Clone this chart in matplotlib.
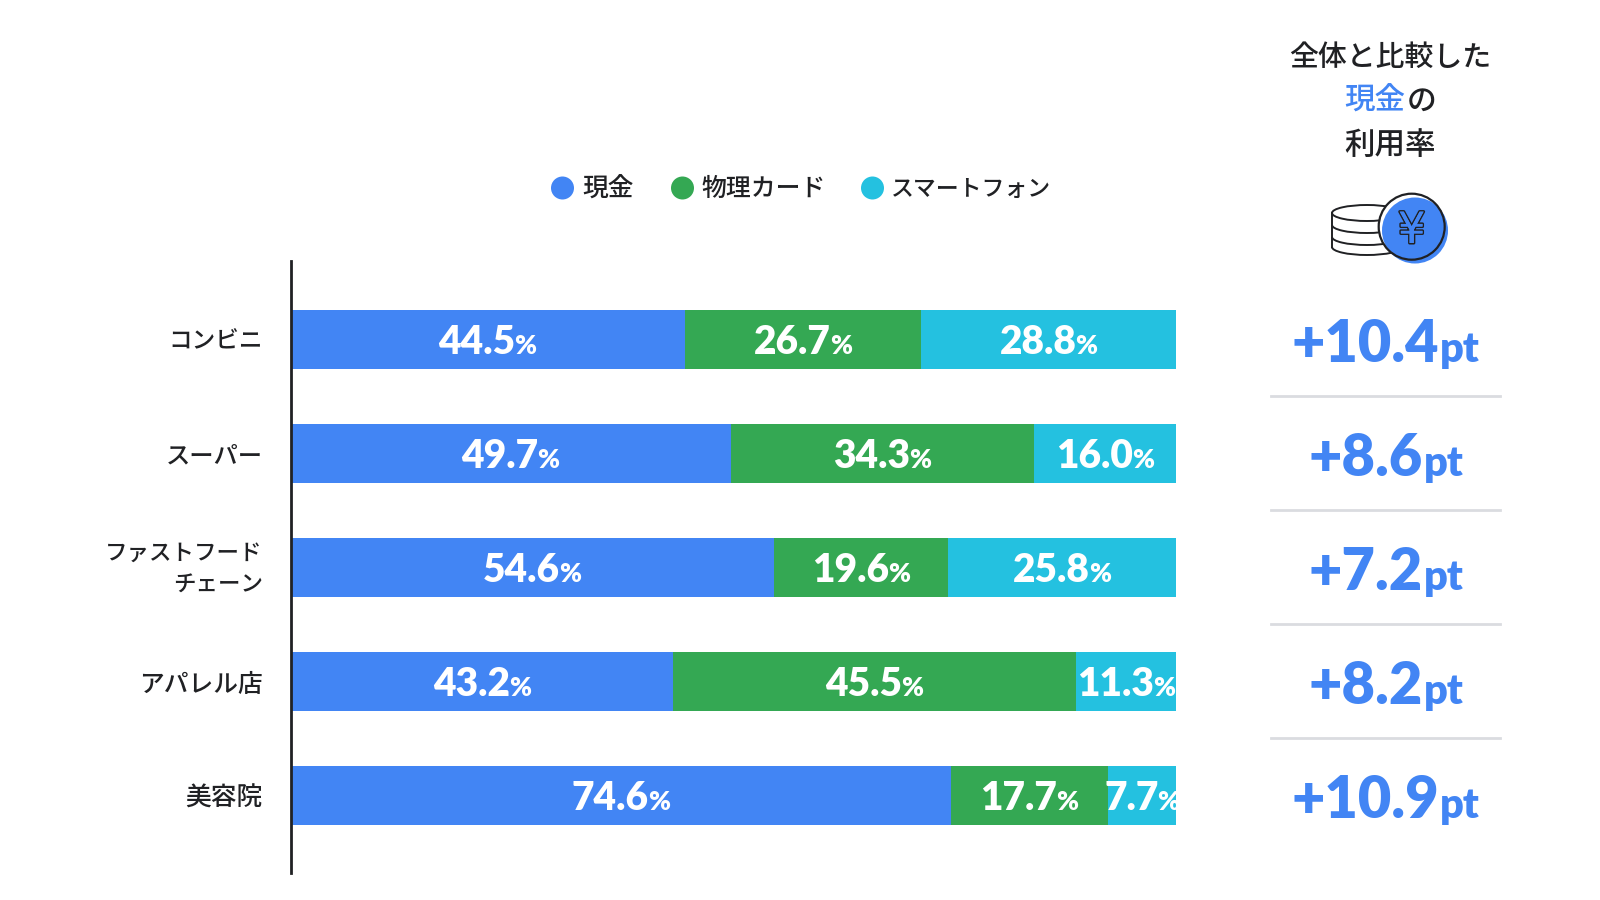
import matplotlib
matplotlib.use("Agg")
import matplotlib.pyplot as plt
import matplotlib.patheffects as pe
from matplotlib.patches import Circle, Ellipse, Arc
from matplotlib.lines import Line2D
from matplotlib.transforms import ScaledTranslation
import numpy as np

categories = ["コンビニ", "スーパー", "ファストフード\nチェーン", "アパレル店", "美容院"]
cash = [44.5, 49.7, 54.6, 43.2, 74.6]
card = [26.7, 34.3, 19.6, 45.5, 17.7]
phone = [28.8, 16.0, 25.8, 11.3, 7.7]
diff = ["+10.4", "+8.6", "+7.2", "+8.2", "+10.9"]
series_names = ["現金", "物理カード", "スマートフォン"]
colors = ["#4285F4", "#34A853", "#24C1E0"]

JP = ["Noto Sans CJK JP", "DejaVu Sans"]
NUM = ["Lato", "Noto Sans CJK JP"]
INK = "#202124"
W, H = 1600, 900
AX_L, AX_R, AX_T, AX_B = 290.5, 1176.0, 261, 873
ROW0, PITCH = 339.5, 114

fig = plt.figure(figsize=(16, 9), dpi=100, facecolor="white")
ov = fig.add_axes([0, 0, 1, 1], zorder=3)
ov.set_xlim(0, W); ov.set_ylim(H, 0); ov.axis("off")

ax = fig.add_axes([AX_L/W, 1-AX_B/H, (AX_R-AX_L)/W, (AX_B-AX_T)/H], zorder=1)
ax.set_xlim(0, 100)
y = np.arange(len(categories))
ax.set_ylim((AX_B-ROW0)/PITCH, (AX_T-ROW0)/PITCH)
for s in ["top", "right", "bottom"]:
    ax.spines[s].set_visible(False)
ax.spines["left"].set_linewidth(2)
ax.spines["left"].set_color(INK)
ax.set_xticks([])
ax.set_yticks(y)
ax.set_yticklabels(categories, fontfamily=JP, color=INK, linespacing=1.5, ha="right", fontweight="medium")
for lab, fs in zip(ax.get_yticklabels(), [17, 17.5, 16.2, 17.8, 18.5]):
    lab.set_fontsize(fs)
ax.tick_params(axis="y", length=0, pad=20)
multi = ax.get_yticklabels()[2]
multi.set_transform(multi.get_transform() + ScaledTranslation(0, 3.5/72, fig.dpi_scale_trans))

left = np.zeros(len(y))
fig.canvas.draw()
rend = fig.canvas.get_renderer()

def pair(x_px, y_px, a, b, fa, fb, color, gap=1.0, family=NUM):
    t1 = ov.text(0, y_px, a, fontsize=fa, color=color, family=family, fontweight="heavy", va="baseline", ha="left")
    t2 = ov.text(0, y_px, b, fontsize=fb, color=color, family=family, fontweight="heavy", va="baseline", ha="left")
    w1 = t1.get_window_extent(rend).width
    w2 = t2.get_window_extent(rend).width
    x0 = x_px - (w1 + gap + w2) / 2
    t1.set_x(x0); t2.set_x(x0 + w1 + gap)

for vals, col in zip([cash, card, phone], colors):
    vals = np.array(vals)
    ax.barh(y, vals, left=left, height=59/PITCH, color=col, linewidth=0)
    for i, v in enumerate(vals):
        cx = AX_L + (left[i] + v/2) * (AX_R-AX_L)/100
        pair(cx, ROW0 + PITCH*i + 14, f"{v:.1f}", "%", 28, 19, "white", gap=-1)
    left += vals

for i, d in enumerate(diff):
    pair(1386, ROW0 + PITCH*i + 22.5, d, "pt", 41.5, 30, colors[0], gap=1)
    if i < len(diff) - 1:
        ov.add_line(Line2D([1271, 1500], [396 + PITCH*i]*2, color="#DADCE0", lw=2))

ov.text(1390, 57, "全体と比較した", family=JP, fontsize=20.8, color=INK, ha="center", va="center", fontweight="medium")
ov.text(1344, 101, "現金", family=JP, fontsize=22, color=colors[0], ha="left", va="center", fontweight="medium")
ov.text(1406.5, 101, "の", family=JP, fontsize=21.5, color=INK, ha="left", va="center", fontweight="medium")
ov.text(1390, 145, "利用率", family=JP, fontsize=22, color=INK, ha="center", va="center", fontweight="medium")

lx = [562.5, 682.5, 872.5]
tx = [582, 701, 891]
for name, c, a, b, fs in zip(series_names, colors, lx, tx, [18.5, 17.9, 16.5]):
    ov.add_patch(Circle((a, 188), 11.5, color=c, lw=0))
    ov.text(b, 189, name, family=JP, fontsize=fs, color=INK, ha="left", va="center", fontweight="medium")

# coin icon
lw = 1.4
ov.add_patch(Ellipse((1367, 213), 70, 16, fc="white", ec=INK, lw=lw, zorder=2))
for yy in [225, 237, 247]:
    ov.add_patch(Arc((1367, yy), 70, 16, theta1=0, theta2=180, ec=INK, lw=lw, zorder=2))
ov.add_line(Line2D([1332, 1332], [213, 247], color=INK, lw=lw, zorder=2))
ov.add_patch(Circle((1411.7, 226.7), 33, fc="white", ec="none", zorder=3))
ov.add_patch(Circle((1415, 230.5), 33, fc=colors[0], ec="none", zorder=4))
ov.add_patch(Circle((1411.7, 226.7), 33, fc="none", ec=INK, lw=1.6, zorder=5))
ov.text(1411.7, 231, "¥", fontsize=31, family="DejaVu Sans", color=colors[0], ha="center", va="center", zorder=6,
        path_effects=[pe.withStroke(linewidth=2.2, foreground=INK), pe.Normal()])

fig.savefig("out.png", dpi=100, facecolor="white")
